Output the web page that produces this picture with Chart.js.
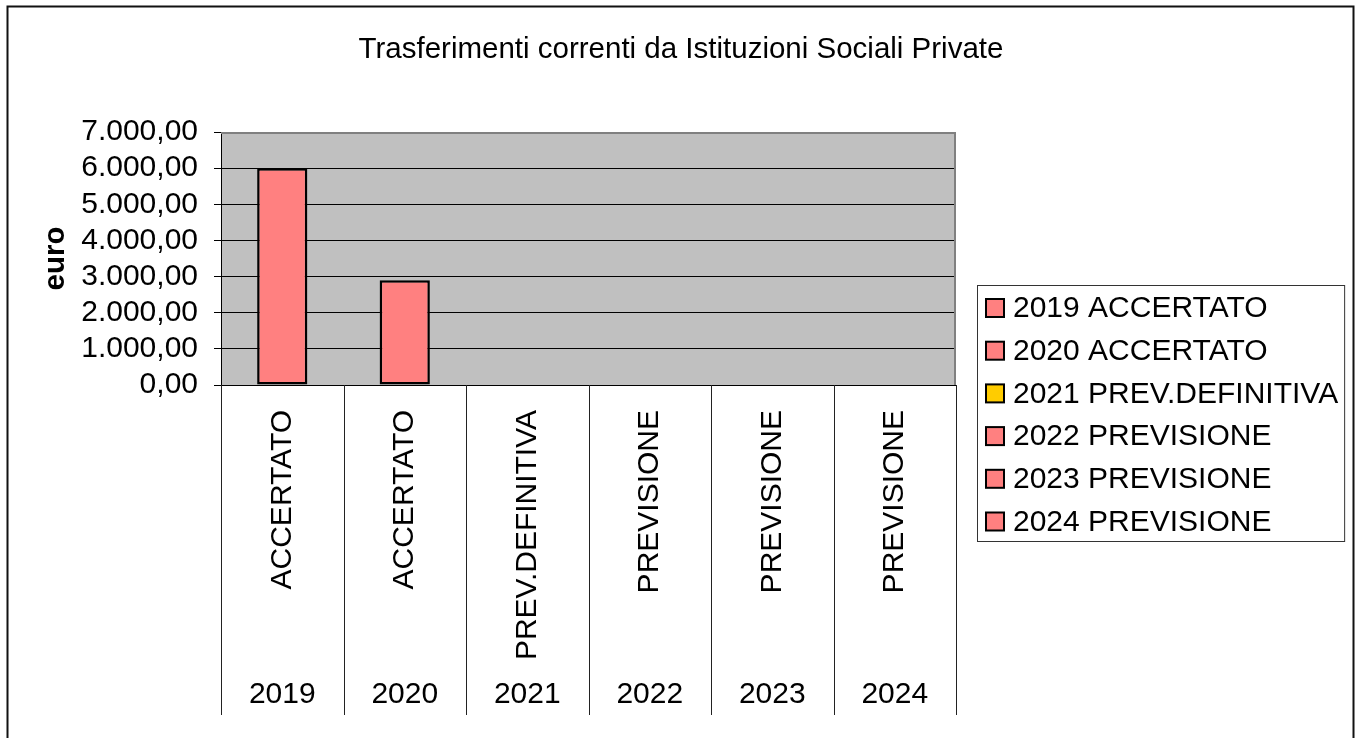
<!DOCTYPE html>
<html>
<head>
<meta charset="utf-8">
<title>Trasferimenti correnti da Istituzioni Sociali Private</title>
<script src="https://cdn.jsdelivr.net/npm/chart.js@4.4.1/dist/chart.umd.min.js"></script>
<style>
  html, body { margin: 0; padding: 0; background: #fff; }
  canvas { display: block; }
</style>
</head>
<body>
<canvas id="trasferimentiChart" width="1362" height="738"></canvas>
<script>
const years = ["2019", "2020", "2021", "2022", "2023", "2024"];
const stages = ["ACCERTATO", "ACCERTATO", "PREV.DEFINITIVA", "PREVISIONE", "PREVISIONE", "PREVISIONE"];
const amounts = [6000, 2900, 0, 0, 0, 0];
const yTicks = [0, 1000, 2000, 3000, 4000, 5000, 6000, 7000];

const barColors = ["#FF8080", "#FF8080", "#FFCC00", "#FF8080", "#FF8080", "#FF8080"];
const FONT = "'Liberation Sans', Arial, Helvetica, sans-serif";

// 7000 -> "7.000,00"
const formatEuro = (v) => {
  const [int, dec] = Number(v).toFixed(2).split(".");
  return int.replace(/\B(?=(\d{3})+(?!\d))/g, ".") + "," + dec;
};

// white page with dark frame, grey plot background
const backgroundPlugin = {
  id: "background",
  beforeDraw(chart) {
    const { ctx, chartArea: a } = chart;
    ctx.save();
    ctx.fillStyle = "#fff";
    ctx.fillRect(0, 0, chart.width, chart.height);
    ctx.strokeStyle = "#111";
    ctx.lineWidth = 2;
    ctx.strokeRect(7.5, 6.5, 1346, 740);
    ctx.fillStyle = "#C0C0C0";
    ctx.fillRect(a.left, a.top, a.right - a.left, a.bottom - a.top);
    ctx.restore();
  },
  afterDatasetsDraw(chart) {
    const { ctx, chartArea: a } = chart;
    ctx.save();
    ctx.strokeStyle = "#808080";
    ctx.lineWidth = 2;
    ctx.beginPath();
    ctx.moveTo(a.left, a.top + 1);
    ctx.lineTo(a.right - 1, a.top + 1);
    ctx.lineTo(a.right - 1, a.bottom);
    ctx.stroke();
    ctx.restore();
  },
};

// vertical separators between the categories, down through both label rows
const separatorPlugin = {
  id: "separators",
  afterDraw(chart) {
    const { ctx, chartArea: a } = chart;
    const xs = chart.scales.x;
    const bottom = chart.scales.x2.bottom;
    const half = (xs.getPixelForValue(1) - xs.getPixelForValue(0)) / 2;
    ctx.save();
    ctx.strokeStyle = "#222";
    ctx.lineWidth = 1;
    ctx.beginPath();
    for (let i = 0; i <= years.length; i++) {
      const x = Math.round(xs.getPixelForValue(i) - half) + 0.5;
      ctx.moveTo(x, a.bottom);
      ctx.lineTo(x, bottom);
    }
    ctx.stroke();
    ctx.restore();
  },
};

// boxed legend on the right, one entry per year
const boxLegendPlugin = {
  id: "boxLegend",
  afterDraw(chart) {
    const { ctx } = chart;
    const ds = chart.data.datasets[0];
    const labels = years.map((y, i) => y + " " + stages[i]);
    const left = 977, top = 285, rowH = 42.7;
    ctx.save();
    ctx.font = "30px " + FONT;
    const maxW = Math.max(...labels.map((t) => ctx.measureText(t).width));
    ctx.strokeStyle = "#333";
    ctx.lineWidth = 1;
    ctx.strokeRect(left + 0.5, top + 0.5, 36 + maxW + 6, 256);
    ctx.textBaseline = "middle";
    labels.forEach((t, i) => {
      const y = top + 23 + i * rowH;
      ctx.fillStyle = ds.backgroundColor[i];
      ctx.fillRect(left + 9, y - 9, 18, 18);
      ctx.strokeStyle = "#000";
      ctx.lineWidth = 2;
      ctx.strokeRect(left + 9, y - 9, 18, 18);
      ctx.fillStyle = "#000";
      ctx.fillText(t, left + 36, y + 1);
    });
    ctx.restore();
  },
};

const renderChart = () => {
  Chart.defaults.font.family = FONT;
  Chart.defaults.font.size = 30;
  Chart.defaults.color = "#000";

  const ctx = document.getElementById("trasferimentiChart").getContext("2d");
  new Chart(ctx, {
    type: "bar",
    data: {
      labels: stages,
      datasets: [
        {
          label: "Trasferimenti correnti",
          data: amounts,
          backgroundColor: barColors,
          borderColor: "#000",
          borderWidth: (c) => (amounts[c.dataIndex] ? 2.5 : 0),
          borderSkipped: false,
          categoryPercentage: 1,
          barPercentage: 0.41,
        },
      ],
    },
    options: {
      responsive: false,
      animation: false,
      layout: { padding: { left: 0, right: 0, top: 0, bottom: 23 } },
      plugins: {
        legend: { display: false },
        tooltip: { enabled: false },
        title: {
          display: true,
          text: "Trasferimenti correnti da Istituzioni Sociali Private",
          font: { size: 29.5, weight: "normal" },
          color: "#000",
          padding: { top: 32, bottom: 64.6 },
        },
      },
      scales: {
        x: {
          type: "category",
          position: "bottom",
          offset: true,
          grid: { display: false, drawTicks: false },
          border: { display: true, color: "#000", width: 1 },
          ticks: { minRotation: 90, maxRotation: 90, padding: 25, autoSkip: false },
          afterFit: (s) => { s.height = 290; },
        },
        x2: {
          type: "category",
          position: "bottom",
          labels: years,
          offset: true,
          grid: { display: false, drawTicks: false },
          border: { display: false },
          ticks: { padding: 2, autoSkip: false },
          afterFit: (s) => { s.height = 40; },
        },
        y: {
          min: 0,
          max: 7000,
          afterBuildTicks: (s) => { s.ticks = yTicks.map((v) => ({ value: v })); },
          grid: { color: "#000", lineWidth: 1, tickLength: 7 },
          border: { color: "#000", width: 1 },
          ticks: { padding: 16, autoSkip: false, callback: (v) => formatEuro(v) },
          title: {
            display: true,
            text: "euro",
            font: { size: 29.5, weight: "bold" },
            color: "#000",
            padding: { top: 38, bottom: 0 },
          },
          afterFit: (s) => { s.width = 221; },
        },
        // empty axis keeping room for the legend box
        yRight: {
          type: "linear",
          position: "right",
          display: true,
          grid: { display: false },
          border: { display: false },
          ticks: { display: false },
          afterFit: (s) => { s.width = 406; },
        },
      },
    },
    plugins: [backgroundPlugin, separatorPlugin, boxLegendPlugin],
  });
};

renderChart();
</script>
</body>
</html>
